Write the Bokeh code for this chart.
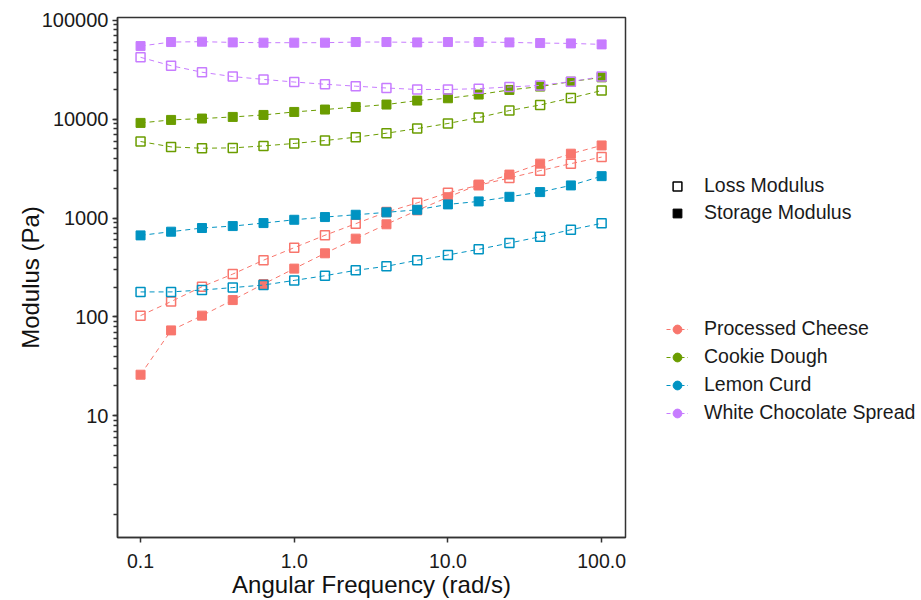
from bokeh.plotting import figure
from bokeh.layouts import row
from bokeh.models import Range1d, FixedTicker, PrintfTickFormatter, Legend, LegendItem
from bokeh.embed import file_html
from bokeh.resources import INLINE

# ---- data ----
freq = [0.1, 0.158, 0.251, 0.398, 0.631, 1.0, 1.585, 2.512, 3.981, 6.31,
        10.0, 15.85, 25.12, 39.81, 63.1, 100.0]

samples = ["Processed Cheese", "Cookie Dough", "Lemon Curd", "White Chocolate Spread"]
colors = ["#F8766D", "#6B9D00", "#0093C2", "#C77CFF"]
modulus_types = ["Loss Modulus", "Storage Modulus"]

pc_storage = [26, 73, 103, 148, 215, 308, 440, 619, 865, 1196, 1626, 2183, 2754, 3554, 4480, 5430]
pc_loss = [103, 143, 202, 271, 375, 502, 670, 877, 1149, 1426, 1800, 2150, 2545, 3020, 3554, 4140]

cd_storage = [9180, 9840, 10160, 10550, 11050, 11850, 12530, 13310, 14080, 15450, 16300, 17770,
              19790, 21400, 24000, 26530]
cd_loss = [5950, 5250, 5090, 5130, 5370, 5690, 6090, 6580, 7220, 8050, 9060, 10400, 12240,
           13930, 16400, 19500]

lc_storage = [668, 728, 793, 830, 890, 961, 1024, 1080, 1142, 1213, 1375, 1474, 1641, 1832, 2140, 2655]
lc_loss = [179, 179, 187, 198, 210, 234, 261, 296, 325, 374, 423, 483, 559, 647, 762, 884]

wcs_storage = [55000, 60400, 60900, 59900, 59500, 59500, 59500, 60400, 60400, 59900, 60400, 60400,
               59900, 59000, 58500, 57200]
wcs_loss = [42300, 34800, 29900, 27000, 25300, 23800, 22600, 21600, 20700, 20000, 20000, 20400,
            21200, 22000, 24000, 27000]

storage = [pc_storage, cd_storage, lc_storage, wcs_storage]
loss = [pc_loss, cd_loss, lc_loss, wcs_loss]

x_ticks = [0.1, 1, 10, 100]
y_ticks = [10, 100, 1000, 10000, 100000]
y_minor = [k * 10 ** n for n in range(0, 5) for k in range(1, 10)]

FONT = "Liberation Sans"
NAN = float("nan")

# ---- main plot ----
p = figure(width=627, height=600, x_axis_type="log", y_axis_type="log",
           x_range=Range1d(0.0708, 143), y_range=Range1d(0.586, 107000),
           output_backend="svg", toolbar_location=None,
           min_border_left=117, min_border_right=2, min_border_top=17, min_border_bottom=62)

for col, st, lo in zip(colors, storage, loss):
    p.line(freq, lo, line_color=col, line_width=1, line_dash="5 4")
    p.line(freq, st, line_color=col, line_width=1, line_dash="5 4")
    p.scatter(freq, lo, marker="square", size=9, line_color=col, line_width=1.5,
              fill_alpha=0)
    p.scatter(freq, st, marker="square", size=9, line_color=col, line_width=1,
              fill_color=col)

p.xaxis.ticker = FixedTicker(ticks=x_ticks, minor_ticks=[])
p.yaxis.ticker = FixedTicker(ticks=y_ticks, minor_ticks=y_minor)
p.xaxis.formatter = PrintfTickFormatter(format="%.1f")
p.yaxis.formatter = PrintfTickFormatter(format="%d")
p.xaxis.axis_label = "Angular Frequency (rad/s)"
p.yaxis.axis_label = "Modulus (Pa)"
for ax in (p.xaxis, p.yaxis):
    ax.axis_label_text_font = FONT
    ax.axis_label_text_font_size = "24px"
    ax.axis_label_text_font_style = "normal"
    ax.axis_label_text_color = "#111111"
    ax.major_label_text_font = FONT
    ax.major_label_text_font_size = "19.5px"
    ax.major_label_text_color = "#1a1a1a"
    ax.axis_line_color = "#333333"
    ax.axis_line_width = 1.5
    ax.major_tick_line_color = "#333333"
    ax.major_tick_line_width = 1.5
    ax.minor_tick_line_color = "#333333"
    ax.minor_tick_line_width = 1.5
    ax.major_tick_out = 5
    ax.major_tick_in = 0
    ax.minor_tick_out = 4
    ax.minor_tick_in = 0
p.yaxis.major_label_text_font_size = "20px"
p.xaxis.major_label_standoff = 11
p.xaxis.axis_label_standoff = 0
p.yaxis.major_label_standoff = 4
p.yaxis.axis_label_standoff = -5

p.xgrid.visible = False
p.ygrid.visible = False
p.outline_line_color = "#333333"
p.outline_line_width = 1.5
p.background_fill_color = "white"
p.border_fill_color = "white"

# ---- legend panel ----
q = figure(width=294, height=600, x_range=Range1d(0, 1), y_range=Range1d(0, 1),
           output_backend="svg", toolbar_location=None,
           x_axis_location=None, y_axis_location=None, min_border=0)
q.xgrid.visible = False
q.ygrid.visible = False
q.outline_line_color = None
q.background_fill_color = "white"
q.border_fill_color = "white"

r_loss = q.scatter(x=[NAN], y=[NAN], marker="square", size=8, line_color="black",
                   line_width=1.5, fill_alpha=0)
r_stor = q.scatter(x=[NAN], y=[NAN], marker="square", size=8, line_color="black",
                   fill_color="black")
leg1 = Legend(items=[LegendItem(label=modulus_types[0], renderers=[r_loss]),
                     LegendItem(label=modulus_types[1], renderers=[r_stor])],
              location=(39, 313), spacing=4)

items2 = []
for name, col in zip(samples, colors):
    rl = q.line(x=[NAN, NAN], y=[NAN, NAN], line_color=col, line_width=1, line_dash="4 3")
    rc = q.scatter(x=[NAN], y=[NAN], marker="circle", size=8, line_color=col, fill_color=col)
    items2.append(LegendItem(label=name, renderers=[rl, rc]))
leg2 = Legend(items=items2, location=(39, 113), spacing=5)

for leg in (leg1, leg2):
    leg.border_line_color = None
    leg.background_fill_alpha = 0
    leg.padding = 0
    leg.margin = 0
    leg.glyph_width = 22
    leg.glyph_height = 22
    leg.label_height = 22
    leg.label_standoff = 16
    leg.label_text_font = FONT
    leg.label_text_font_size = "19.5px"
    leg.label_text_color = "#1a1a1a"
    q.add_layout(leg, "center")

layout = row(p, q)
open("out.html", "w").write(file_html(layout, INLINE))
